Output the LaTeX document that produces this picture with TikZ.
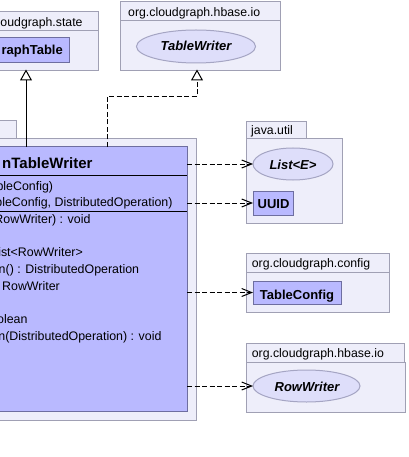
\documentclass[tikz,border=0pt]{standalone}
\usepackage{fontspec}
\setmainfont{Liberation Sans}
\usetikzlibrary{arrows.meta,shapes.geometric}
\definecolor{pkgfill}{RGB}{238,238,250}
\definecolor{pkgdraw}{RGB}{160,160,180}
\definecolor{clsfill}{RGB}{185,185,255}
\definecolor{clsdraw}{RGB}{110,110,160}
\definecolor{ellfill}{RGB}{222,222,250}
\definecolor{elldraw}{RGB}{165,165,195}
\tikzset{
  pkg/.style={draw=pkgdraw, fill=pkgfill, line width=1pt, inner sep=0pt, outer sep=0pt, anchor=north west},
  clsbox/.style={draw=clsdraw, fill=clsfill, line width=1pt, inner sep=0pt, outer sep=0pt, anchor=north west},
  ifc/.style={ellipse, draw=elldraw, fill=ellfill, line width=1pt, inner sep=0pt, outer sep=0pt},
  clsname/.style={font=\fontsize{13}{15}\selectfont\bfseries, inner sep=0pt},
  ifcname/.style={font=\fontsize{13}{15}\selectfont\bfseries\itshape, inner sep=0pt},
  plabel/.style={font=\fontsize{12.3}{14}\selectfont, inner sep=0pt},
  mem/.style={font=\fontsize{12.4}{14}\selectfont, inner sep=0pt, anchor=base east},
  dep/.style={draw=black, line width=1pt, dash pattern=on 5pt off 2.5pt, -{Straight Barb[length=10pt,width=8pt]}},
  gen/.style={draw=black, line width=1pt, -{Triangle[open, length=11pt, width=12pt, fill=white]}},
  realz/.style={gen, dash pattern=on 5pt off 2.5pt}
}
\begin{document}
\begin{tikzpicture}[x=1pt,y=-1pt]
\useasboundingbox (0,0) rectangle (408,457);
\clip (0,0) rectangle (408,457);
% packages
\node[pkg, minimum width=103pt, minimum height=19pt] (pstatetab) at (-5,12) {};
\node[pkg, minimum width=103pt, minimum height=40pt] (pstate) at (-5,31) {};
\node[plabel, anchor=base west] (pstatelbl) at (0.3,27) {oudgraph.state};
\node[pkg, minimum width=160pt, minimum height=18.7pt] (phiotab) at (120,2) {};
\node[pkg, minimum width=160pt, minimum height=50.3pt] (phio) at (120,20.7) {};
\node[plabel, anchor=base west] (phiolbl) at (128,16.5) {org.cloudgraph.hbase.io};
\node[pkg, minimum width=21.7pt, minimum height=18pt] (pmaintab) at (-5,121) {};
\node[pkg, minimum width=201pt, minimum height=281pt] (pmain) at (-5,139) {};
\node[pkg, minimum width=60pt, minimum height=17pt] (putiltab) at (246,122) {};
\node[pkg, minimum width=96pt, minimum height=84pt] (putil) at (246,139) {};
\node[plabel, anchor=base west] (putillbl) at (251,135) {java.util};
\node[pkg, minimum width=143pt, minimum height=19pt] (pcfgtab) at (246,253) {};
\node[pkg, minimum width=143pt, minimum height=40pt] (pcfg) at (246,272) {};
\node[plabel, anchor=base west] (pcfglbl) at (251.7,267.7) {org.cloudgraph.config};
\node[pkg, minimum width=158pt, minimum height=19pt] (phio2tab) at (246,343) {};
\node[pkg, minimum width=159pt, minimum height=50pt] (phio2) at (246,362) {};
\node[plabel, anchor=base west] (phio2lbl) at (251.7,357.7) {org.cloudgraph.hbase.io};
% classes
\node[clsbox, minimum width=74pt, minimum height=25pt] (gt) at (-5,38) {};
\node[clsname, anchor=base east] (gtlbl) at (63,55) {raphTable};
\node[ifc, minimum width=119pt, minimum height=33pt] (tw) at (196,46.5) {};
\node[ifcname, anchor=base] (twlbl) at (196,50.5) {TableWriter};
\node[ifc, minimum width=80pt, minimum height=32pt] (lst) at (293,164) {};
\node[ifcname, anchor=base] (lstlbl) at (293,169.5) {List<E>};
\node[clsbox, minimum width=40pt, minimum height=24pt] (uuid) at (253,191) {};
\node[clsname, anchor=base] (uuidlbl) at (273.5,208.5) {UUID};
\node[clsbox, minimum width=88pt, minimum height=23pt] (tc) at (253,281) {};
\node[clsname, anchor=base] (tclbl) at (297,299.5) {TableConfig};
\node[ifc, minimum width=107pt, minimum height=32pt] (rw) at (306.5,386) {};
\node[ifcname, anchor=base] (rwlbl) at (307,391.5) {RowWriter};
% main class
\node[clsbox, minimum width=192pt, minimum height=264pt] (cls) at (-5,147) {};
\draw[draw=black, line width=1pt] (cls.west |- 0,175) -- (cls.east |- 0,175);
\draw[draw=black, line width=1pt] (cls.west |- 0,211) -- (cls.east |- 0,211);
\node[font=\fontsize{15}{18}\selectfont\bfseries, inner sep=0pt, anchor=base east] (clsname) at (92.7,168) {nTableWriter};
\node[mem] (m1) at (53.3,190) {bleConfig)};
\node[mem] (m2) at (172.7,206) {bleConfig, DistributedOperation)};
\node[mem] (m3) at (90.7,223) {RowWriter) : void};
\node[mem] (m4) at (83,256) {ist<RowWriter>};
\node[mem] (m5) at (139.3,273) {n() : DistributedOperation};
\node[mem] (m6) at (60,290) {RowWriter};
\node[mem] (m7) at (27.7,323) {olean};
\node[mem] (m8) at (161.7,340) {n(DistributedOperation) : void};
% connectors
\coordinate (gtip) at (26,69.5);
\coordinate (twtip) at (197,69.5);
\coordinate (bend1) at (107,96.5);
\draw[gen] (cls.north -| gtip) -- (gtip);
\draw[realz] (cls.north -| bend1) -- (bend1) -| (twtip);
\draw[dep] (cls.east |- lst.west) -- (lst.west);
\draw[dep] (cls.east |- uuid.west) -- (uuid.west);
\draw[dep] (cls.east |- tc.west) -- (tc.west);
\draw[dep] (cls.east |- rw.west) -- (rw.west);
\end{tikzpicture}
\end{document}
